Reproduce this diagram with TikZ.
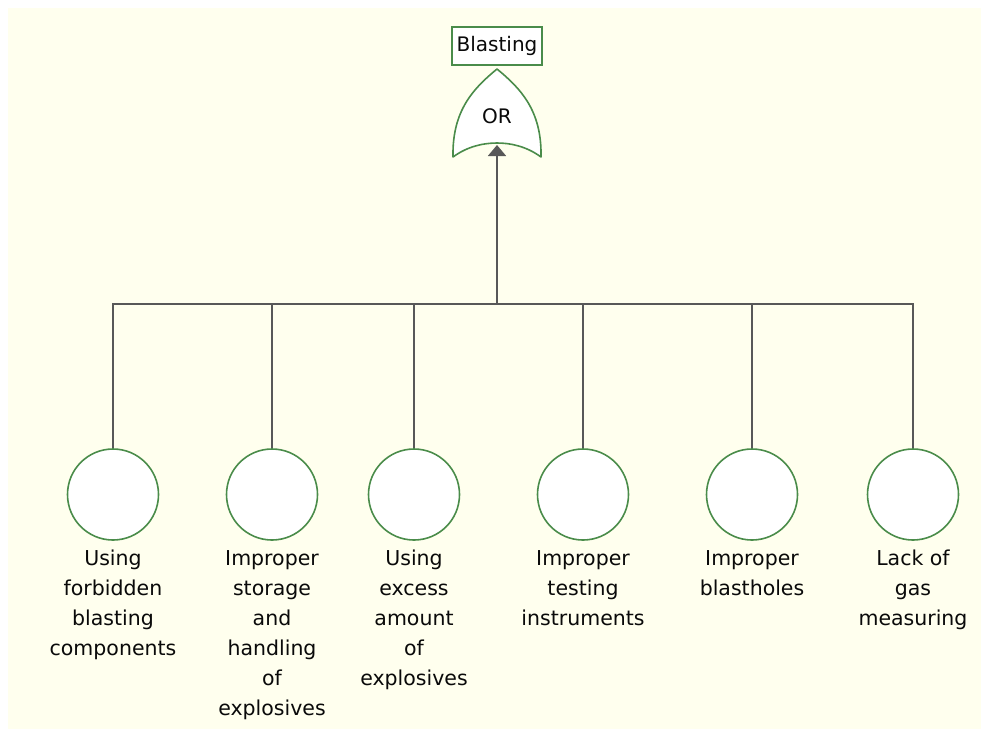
\documentclass[tikz,border=0pt]{standalone}
\usepackage{fontspec}
\setmainfont{DejaVu Sans}
\usetikzlibrary{arrows.meta}
\definecolor{bgcream}{RGB}{255,255,238}
\definecolor{gatecol}{RGB}{74,140,74}
\definecolor{linecol}{RGB}{88,88,88}
\definecolor{txtcol}{RGB}{10,10,10}
\tikzset{
  evtbox/.style={draw=gatecol, line width=1.6pt, fill=white, minimum width=90pt, minimum height=38pt, inner sep=0pt, text=txtcol, font=\fontsize{20}{30}\selectfont},
  basic/.style={circle, draw=gatecol, line width=1.6pt, fill=white, minimum size=91pt, inner sep=0pt},
  lbl/.style={anchor=north, align=center, inner sep=0pt, text=txtcol, font=\fontsize{20.5}{30}\selectfont},
  conn/.style={draw=linecol, line width=1.7pt},
  gatestyle/.style={draw=gatecol, line width=1.6pt, fill=white, line join=round},
}
\begin{document}
\begin{tikzpicture}[x=1pt,y=-1pt]
\useasboundingbox (0,0) rectangle (981,729);
\fill[white] (0,0) rectangle (981,729);
\fill[bgcream] (8,8) rectangle (981,729);

% top event
\node[evtbox] (top) at (497,46) {Blasting};

% OR gate
\path[gatestyle] (453,157) .. controls (452,110) and (474,88) .. (497,69)
  .. controls (520,88) and (542,110) .. (541,157)
  .. controls (526,146) and (510,143) .. (497,143)
  .. controls (484,143) and (468,146) .. (453,157) -- cycle;
\node[text=txtcol, font=\fontsize{20}{24}\selectfont] (gate) at (497,116) {OR};
\coordinate (gatein) at (497,145);

% junction on the bar
\coordinate (j) at (497,304);

% basic events
\node[basic] (c1) at (113,494.5) {};
\node[basic] (c2) at (272,494.5) {};
\node[basic] (c3) at (414,494.5) {};
\node[basic] (c4) at (583,494.5) {};
\node[basic] (c5) at (752,494.5) {};
\node[basic] (c6) at (913,494.5) {};

% connectors
\foreach \c in {c1,c2,c3,c4,c5,c6}{
  \draw[conn] (\c) |- (j);
}
\draw[conn, -{Triangle[width=18pt,length=11pt]}] (j) -- (gatein);

% labels
\node[lbl] (l1) at (113,550) {Using\\forbidden\\blasting\\components};
\node[lbl] (l2) at (272,550) {Improper\\storage\\and\\handling\\of\\explosives};
\node[lbl] (l3) at (414,550) {Using\\excess\\amount\\of\\explosives};
\node[lbl] (l4) at (583,550) {Improper\\testing\\instruments};
\node[lbl] (l5) at (752,550) {Improper\\blastholes};
\node[lbl] (l6) at (913,550) {Lack of\\gas\\measuring};
\end{tikzpicture}
\end{document}
